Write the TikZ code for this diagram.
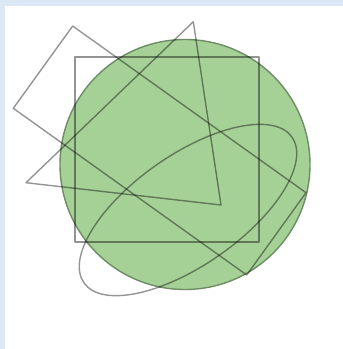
\documentclass[tikz,border=0pt]{standalone}
\usetikzlibrary{calc}
\definecolor{frameBlue}{HTML}{DCE8F5}
\definecolor{discGreen}{HTML}{A5D196}
\definecolor{discEdge}{HTML}{6E8C66}

\begin{document}
\begin{tikzpicture}[x=1pt,y=-1pt,
  outline/.style={draw=black,draw opacity=0.42,line width=1.4pt,line join=round}]
  \fill[frameBlue] (0,0) rectangle (343,349);
  \fill[white] (5,6) rectangle (343,349);
  \useasboundingbox (0,0) rectangle (343,349);
  % disc
  \filldraw[fill=discGreen,draw=discEdge,line width=1.4pt] (185,164.5) circle[radius=125];
  % square
  \draw[outline] (75,57) rectangle (259,242);
  % tilted rectangle
  \draw[outline] (72.7,26) -- (13.3,108.3) -- (246.7,275) -- (306,192.7) -- cycle;
  % triangle
  \draw[outline] (193.3,21.7) -- (26,182.7) -- (221,205) -- cycle;
  % ellipse
  \draw[outline,rotate around={35:(188,210)}] (188,210) ellipse[x radius=127,y radius=55];
\end{tikzpicture}
\end{document}
